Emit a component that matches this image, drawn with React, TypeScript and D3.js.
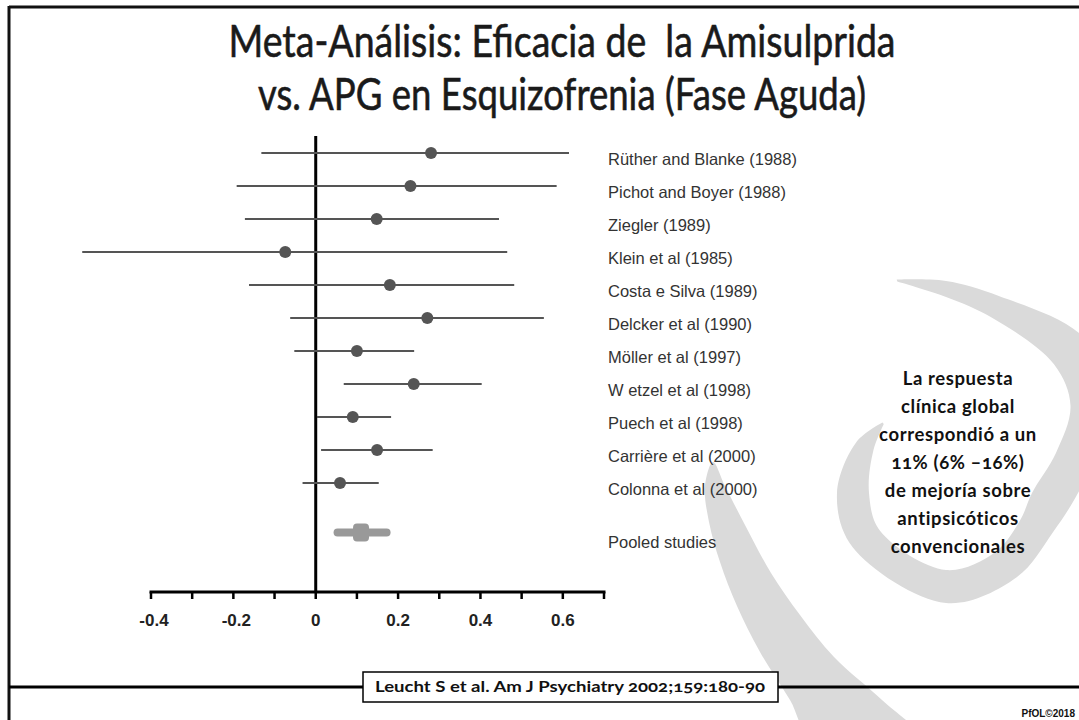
import React from "react";
import * as d3 from "d3";

const W = 1079;
const H = 720;

const titleLines = [
  "Meta-Análisis: Eficacia de  la Amisulprida",
  "vs. APG en Esquizofrenia (Fase Aguda)",
];

const studies = [
  "Rüther and Blanke (1988)",
  "Pichot and Boyer (1988)",
  "Ziegler (1989)",
  "Klein et al (1985)",
  "Costa e Silva (1989)",
  "Delcker et al (1990)",
  "Möller et al (1997)",
  "W etzel et al (1998)",
  "Puech et al (1998)",
  "Carrière et al (2000)",
  "Colonna et al (2000)",
];
const estimates = [0.28, 0.23, 0.148, -0.074, 0.18, 0.271, 0.1, 0.238, 0.09, 0.149, 0.059];
const lowerCI = [-0.132, -0.192, -0.172, -0.567, -0.162, -0.062, -0.052, 0.068, 0.003, 0.013, -0.032];
const upperCI = [0.615, 0.585, 0.445, 0.465, 0.482, 0.554, 0.239, 0.403, 0.183, 0.284, 0.153];

const pooledLabel = "Pooled studies";
const pooledEstimate = 0.11;
const pooledLower = 0.053;
const pooledUpper = 0.172;

const tickValues = [-0.4, -0.3, -0.2, -0.1, 0, 0.1, 0.2, 0.3, 0.4, 0.5, 0.6, 0.7];
const tickLabels = ["-0.4", "-0.2", "0", "0.2", "0.4", "0.6"];
const tickLabelValues = [-0.4, -0.2, 0, 0.2, 0.4, 0.6];

const noteLines = [
  "La respuesta",
  "clínica global",
  "correspondió a un",
  "11% (6% –16%)",
  "de mejoría sobre",
  "antipsicóticos",
  "convencionales",
];
const citation = "Leucht S et al. Am J Psychiatry 2002;159:180-90";
const copyright = "PfOL©2018";

// decorative logo spiral keyframes: angle (deg), inner radius, outer radius
const spiralKeys: [number, number, number][] = [
  [-13, 217, 219],
  [0, 196, 212],
  [15, 181, 204],
  [40, 168, 208],
  [55, 152, 196],
  [70, 117, 168],
  [90, 86, 132],
  [110, 79, 114],
  [140, 77, 110],
  [180, 77, 110],
  [240, 76, 108],
  [270, 77, 109],
  [300, 84, 103],
  [318, 93, 95],
];
const leftArm: [number, number][] = [
  [713, 462],
  [705, 486],
  [709, 522],
  [720, 562],
  [737, 606],
  [760, 652],
  [790, 700],
  [812, 738],
  [920, 738],
  [882, 700],
  [834, 657],
  [800, 615],
  [771, 573],
  [745, 525],
  [725, 486],
];

export default function App() {
  const x = d3.scaleLinear().domain([-0.4, 0.7]).range([151, 604]);
  const y = d3.scaleLinear().domain([0, 11.5]).range([153, 532.5]);
  const axisY = 592;
  const zeroTop = 136;
  const labelX = 608;

  const spiral = d3
    .areaRadial<[number, number, number]>()
    .angle((d) => (d[0] * Math.PI) / 180)
    .innerRadius((d) => d[1])
    .outerRadius((d) => d[2])
    .curve(d3.curveCatmullRom)(spiralKeys) as string;
  const arm = d3.line().curve(d3.curveCatmullRomClosed)(leftArm) as string;

  const pooledY = y(11.5);
  const logoGray = "#dadada";

  return (
    <svg
      width={W}
      height={H}
      style={{ position: "absolute", left: 0, top: 0, background: "#fff" }}
    >
      <rect x={0} y={0} width={W} height={H} fill="#fff" />
      {/* decorative logo */}
      <path d={arm} fill={logoGray} />
      <path d={spiral} fill={logoGray} transform="translate(946,493)" />

      {/* frame */}
      <line x1={9} y1={7} x2={W} y2={7} stroke="#111" strokeWidth={3} />
      <line x1={9} y1={6} x2={9} y2={H} stroke="#111" strokeWidth={3} />
      <line x1={9} y1={687} x2={W} y2={687} stroke="#000" strokeWidth={3} />

      {/* title */}
      {titleLines.map((t, i) => (
        <text
          key={t}
          x={562}
          y={57 + i * 53}
          textAnchor="middle"
          fontFamily="Lato, 'Open Sans', sans-serif"
          fontSize={44}
          fill="#1a1a1a"
          stroke="#1a1a1a"
          strokeWidth={0.6}
          textLength={i === 0 ? 667 : 608}
          lengthAdjust="spacingAndGlyphs"
          style={{ whiteSpace: "pre" }}
        >
          {t}
        </text>
      ))}

      {/* zero line */}
      <line x1={x(0)} y1={zeroTop} x2={x(0)} y2={axisY} stroke="#000" strokeWidth={3} />

      {/* studies */}
      {studies.map((s, i) => (
        <g key={s}>
          <line
            x1={x(lowerCI[i])}
            x2={x(upperCI[i])}
            y1={y(i)}
            y2={y(i)}
            stroke="#555"
            strokeWidth={1.8}
          />
          <circle cx={x(estimates[i])} cy={y(i)} r={6} fill="#555" />
          <text
            x={labelX}
            y={y(i) + 6}
            dominantBaseline="central"
            fontFamily="'Liberation Sans', Arial, sans-serif"
            fontSize={16.5}
            fill="#333"
          >
            {s}
          </text>
        </g>
      ))}

      {/* pooled */}
      <g>
        <line
          x1={x(pooledLower)}
          x2={x(pooledUpper)}
          y1={pooledY}
          y2={pooledY}
          stroke="#999"
          strokeWidth={8}
          strokeLinecap="round"
        />
        <rect
          x={x(pooledEstimate) - 8}
          y={pooledY - 9}
          width={16}
          height={18}
          rx={4}
          fill="#999"
        />
        <text
          x={labelX}
          y={pooledY + 9}
          dominantBaseline="central"
          fontFamily="'Liberation Sans', Arial, sans-serif"
          fontSize={16.5}
          fill="#333"
        >
          {pooledLabel}
        </text>
      </g>

      {/* x axis */}
      <line x1={x(-0.4) - 1.5} x2={x(0.7) + 1.5} y1={axisY} y2={axisY} stroke="#000" strokeWidth={3} />
      {tickValues.map((v) => (
        <line key={v} x1={x(v)} x2={x(v)} y1={axisY} y2={axisY + 7} stroke="#000" strokeWidth={2.5} />
      ))}
      {tickLabelValues.map((v, i) => (
        <text
          key={v}
          x={x(v) + (v < 0 ? 3 : 0)}
          y={626}
          textAnchor="middle"
          fontFamily="'Liberation Sans', Arial, sans-serif"
          fontWeight="bold"
          fontSize={17}
          fill="#222"
        >
          {tickLabels[i]}
        </text>
      ))}

      {/* annotation */}
      {noteLines.map((t, i) => (
        <text
          key={t}
          x={958}
          y={385 + i * 28}
          textAnchor="middle"
          fontFamily="Lato, 'Open Sans', sans-serif"
          fontWeight="bold"
          fontSize={18.5}
          letterSpacing={0.6}
          fill="#111"
          style={{ fontFeatureSettings: "'onum'" }}
        >
          {t}
        </text>
      ))}

      {/* citation */}
      <rect x={363} y={672} width={415} height={30} fill="#fff" stroke="#000" strokeWidth={1.5} />
      <text
        x={570}
        y={692}
        textAnchor="middle"
        fontFamily="Lato, 'Open Sans', sans-serif"
        fontWeight="bold"
        fontSize={15.5}
        fill="#111"
        textLength={390}
        lengthAdjust="spacingAndGlyphs"
        style={{ fontFeatureSettings: "'onum'" }}
      >
        {citation}
      </text>

      <text
        x={1075}
        y={717}
        textAnchor="end"
        fontFamily="'Liberation Sans', Arial, sans-serif"
        fontWeight="bold"
        fontSize={10}
        fill="#111"
      >
        {copyright}
      </text>
    </svg>
  );
}
